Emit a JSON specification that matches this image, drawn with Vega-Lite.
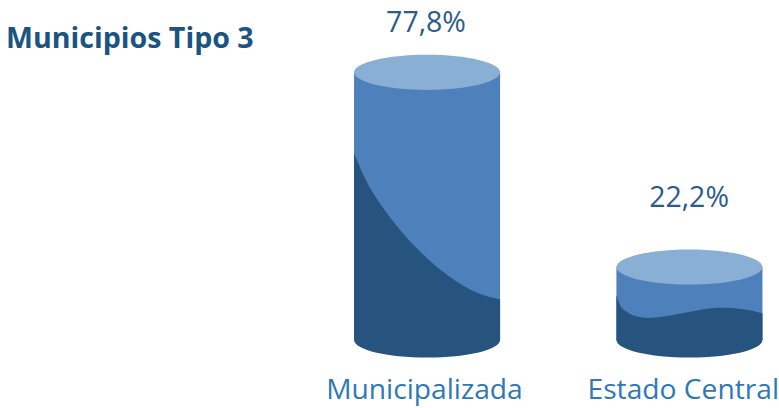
{
"$schema":"https://vega.github.io/schema/vega-lite/v6.json",
"width":779,"height":408,"padding":0,
"autosize":{"type":"none"},
"background":"white",
"config":{"view":{"stroke":null}},
"datasets":{
"cilindros":[
{"categoria":"Municipalizada","pos":1,"inicio":0.7224,"fin":1.2776,"altura":77.8,"base":0,"etiqueta":"77,8%","xEtiqueta":0.996,"yEtiqueta":92.2,"xCategoria":0.99,"yCategoria":-14.7},
{"categoria":"Estado Central","pos":1.9975,"inicio":1.7199,"fin":2.2751,"altura":21.2,"base":0,"etiqueta":"22,2%","xEtiqueta":1.996,"yEtiqueta":41.4,"xCategoria":1.974,"yCategoria":-14.7}
],
"oscuroMunicipalizada":[
{"pos":0.7224,"nivel":54.3},
{"pos":0.7707,"nivel":46.0},
{"pos":0.8338,"nivel":38.3},
{"pos":0.8973,"nivel":32.0},
{"pos":0.9608,"nivel":26.7},
{"pos":1.0114,"nivel":23.0},
{"pos":1.0684,"nivel":19.4},
{"pos":1.1445,"nivel":15.5},
{"pos":1.2205,"nivel":12.9},
{"pos":1.2776,"nivel":11.8}
],
"oscuroEstado":[
{"pos":1.7199,"nivel":13.1},
{"pos":1.7338,"nivel":10.2},
{"pos":1.7593,"nivel":8.2},
{"pos":1.7973,"nivel":6.8},
{"pos":1.8414,"nivel":6.4},
{"pos":1.8985,"nivel":6.8},
{"pos":1.9494,"nivel":7.5},
{"pos":2.0,"nivel":8.2},
{"pos":2.0445,"nivel":8.9},
{"pos":2.1205,"nivel":9.4},
{"pos":2.1966,"nivel":9.0},
{"pos":2.2751,"nivel":7.8}
],
"titulo":[{"texto":"Municipios Tipo 3","pos":-0.6008,"y":87.5}]
},
"layer":[
{"data":{"name":"cilindros"},"mark":{"type":"bar","color":"#4e80bc"},
 "encoding":{
 "x":{"field":"inicio","type":"quantitative","axis":null,"scale":{"domain":[-0.6236,2.338],"nice":false,"zero":false}},
 "x2":{"field":"fin"},
 "y":{"field":"altura","type":"quantitative","axis":null,"scale":{"domain":[-19.77,98.84],"nice":false,"zero":false}},
 "y2":{"field":"base"}}},
{"data":{"name":"cilindros"},"mark":{"type":"point","filled":true,"opacity":1,"color":"#27547f","size":21316,"shape":"M-1,0A1,0.24,0,1,1,1,0A1,0.24,0,1,1,-1,0Z"},
 "encoding":{
 "x":{"field":"pos","type":"quantitative"},
 "y":{"field":"base","type":"quantitative"}}},
{"data":{"name":"oscuroMunicipalizada"},"mark":{"type":"area","color":"#27547f","interpolate":"monotone","opacity":1},
 "encoding":{
 "x":{"field":"pos","type":"quantitative"},
 "y":{"field":"nivel","type":"quantitative","stack":null}}},
{"data":{"name":"oscuroEstado"},"mark":{"type":"area","color":"#27547f","interpolate":"monotone","opacity":1},
 "encoding":{
 "x":{"field":"pos","type":"quantitative"},
 "y":{"field":"nivel","type":"quantitative","stack":null}}},
{"data":{"name":"cilindros"},"mark":{"type":"point","filled":true,"opacity":1,"color":"#8aafd4","size":21316,"shape":"M-1,0A1,0.24,0,1,1,1,0A1,0.24,0,1,1,-1,0Z"},
 "encoding":{
 "x":{"field":"pos","type":"quantitative"},
 "y":{"field":"altura","type":"quantitative"}}},
{"data":{"name":"cilindros"},"mark":{"type":"text","font":"Open Sans","fontSize":28.5,"color":"#2b5c8c","align":"center","baseline":"middle"},
 "encoding":{
 "x":{"field":"xEtiqueta","type":"quantitative"},
 "y":{"field":"yEtiqueta","type":"quantitative"},
 "text":{"field":"etiqueta"}}},
{"data":{"name":"cilindros"},"mark":{"type":"text","font":"Open Sans","fontSize":28.2,"color":"#2f78b7","align":"center","baseline":"middle"},
 "encoding":{
 "x":{"field":"xCategoria","type":"quantitative"},
 "y":{"field":"yCategoria","type":"quantitative"},
 "text":{"field":"categoria"}}},
{"data":{"name":"titulo"},"mark":{"type":"text","font":"Open Sans","fontWeight":"bold","fontSize":28.6,"color":"#1a5480","align":"left","baseline":"middle"},
 "encoding":{
 "x":{"field":"pos","type":"quantitative"},
 "y":{"field":"y","type":"quantitative"},
 "text":{"field":"texto"}}}
]
}
